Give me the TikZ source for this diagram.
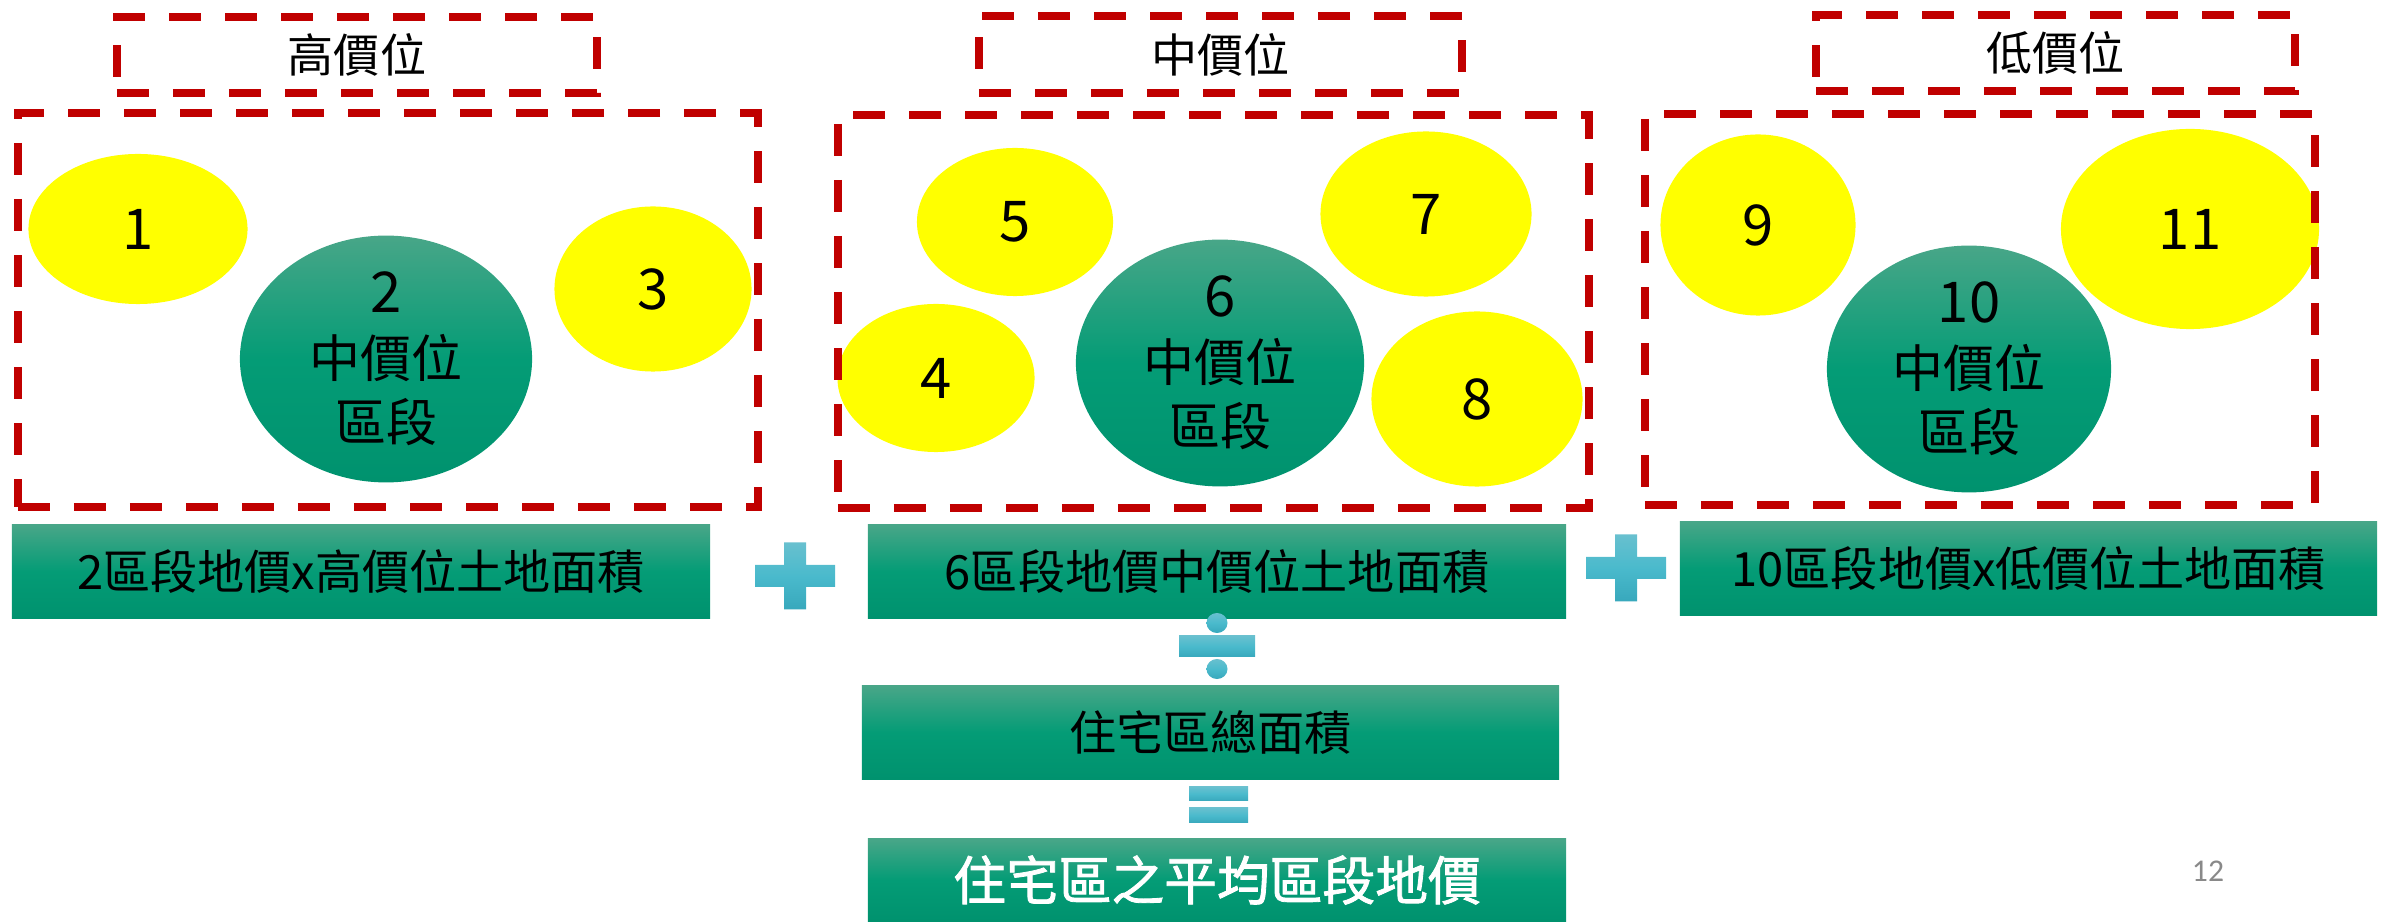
\documentclass[tikz,border=0pt]{standalone}
\usepackage{fontspec}
\setmainfont{Noto Sans CJK TC}
\newfontfamily\pagefont{Carlito}
\newfontfamily\semibold[FakeBold=1.6]{Noto Sans CJK TC}
\usetikzlibrary{shapes.geometric}
\definecolor{dred}{RGB}{192,0,0}
\definecolor{gtop}{RGB}{72,166,136}
\definecolor{gmid}{RGB}{4,156,118}
\definecolor{gbot}{RGB}{0,146,110}
\definecolor{ctop}{RGB}{104,192,207}
\definecolor{cmid}{RGB}{74,186,204}
\definecolor{cbot}{RGB}{56,168,188}
\definecolor{yel}{RGB}{255,255,0}
\definecolor{pgray}{RGB}{137,137,137}
\tikzset{
  redbox/.style={draw=dred, line width=0.08cm, dash pattern=on 0.32cm off 0.24cm, inner sep=0, rectangle},
  titlebox/.style={redbox, font=\fontsize{13.1}{16}\selectfont},
  yellowell/.style={ellipse, fill=yel, inner sep=0, font=\fontsize{16}{19}\selectfont},
  greenell/.style={ellipse, top color=gtop, bottom color=gbot, middle color=gmid, inner sep=0, align=center, font=\fontsize{14.5}{18.4}\selectfont},
  greenrect/.style={rectangle, top color=gtop, bottom color=gbot, middle color=gmid, inner sep=0, font=\fontsize{13.4}{16}\selectfont},
  opfill/.style={top color=ctop, bottom color=cbot, middle color=cmid},
}
\begin{document}
\begin{tikzpicture}[x=0.01cm, y=-0.01cm]
\useasboundingbox (0,0) rectangle (2381,922);
\clip (0,0) rectangle (2381,922);

% yellow ellipses
\node[yellowell, minimum width=2.19cm, minimum height=1.50cm] (e1) at (138,229) {1};
\node[yellowell, minimum width=1.97cm, minimum height=1.65cm] (e3) at (653,289) {3};
\node[yellowell, minimum width=1.96cm, minimum height=1.48cm] (e5) at (1015,222) {5};
\node[yellowell, minimum width=1.97cm, minimum height=1.48cm] (e4) at (936,378) {4};
\node[yellowell, minimum width=2.11cm, minimum height=1.65cm] (e7) at (1426,214) {7};
\node[yellowell, minimum width=2.11cm, minimum height=1.75cm] (e8) at (1477,399) {8};
\node[yellowell, minimum width=1.95cm, minimum height=1.81cm] (e9) at (1758,225) {9};
\node[yellowell, minimum width=2.58cm, minimum height=2.00cm] (e11) at (2190,229) {11};

% green ellipses
\node[greenell, minimum width=2.92cm, minimum height=2.44cm] (e2) at (386,359) {{\fontsize{16}{18.4}\selectfont 2}\\中價位\\區段};
\node[greenell, minimum width=2.88cm, minimum height=2.11cm] (e6) at (1220,363) {{\fontsize{16}{18.4}\selectfont 6}\\中價位\\區段};
\node[greenell, minimum width=2.84cm, minimum height=2.20cm] (e10) at (1969,369) {{\fontsize{16}{18.4}\selectfont 10}\\中價位\\區段};

% dashed group boxes
\node[redbox, minimum width=7.40cm, minimum height=3.94cm] (big1) at (388,310) {};
\node[redbox, minimum width=7.51cm, minimum height=3.93cm] (big2) at (1213.5,311.5) {};
\node[redbox, minimum width=6.70cm, minimum height=3.91cm] (big3) at (1980,309.5) {};

% title boxes
\node[titlebox, minimum width=4.80cm, minimum height=0.76cm] (t1) at (357,55) {高價位};
\node[titlebox, minimum width=4.83cm, minimum height=0.77cm] (t2) at (1220.5,54.5) {中價位};
\node[titlebox, minimum width=4.79cm, minimum height=0.76cm] (t3) at (2055.5,53) {低價位};

% formula boxes
\node[greenrect, minimum width=6.98cm, minimum height=0.93cm] (r1) at (361,571.5) {2區段地價x高價位土地面積};
\node[greenrect, minimum width=6.98cm, minimum height=0.93cm] (r2) at (1217,571.5) {6區段地價中價位土地面積};
\node[greenrect, minimum width=6.97cm, minimum height=0.93cm] (r5) at (2028.5,568.5) {10區段地價x低價位土地面積};
\node[greenrect, minimum width=6.97cm, minimum height=0.93cm] (r3) at (1210.5,732.5) {住宅區總面積};
\node[greenrect, minimum width=6.98cm, minimum height=0.82cm, text=white, font=\semibold\fontsize{15}{18}\selectfont] (r4) at (1217,880) {住宅區之平均區段地價};

% plus signs
\begin{scope}[shift={(795,576)}]
\shade[opfill] (-40,-11) -- (-11,-11) -- (-11,-33.5) -- (11,-33.5) -- (11,-11) -- (40,-11) -- (40,11) -- (11,11) -- (11,33.5) -- (-11,33.5) -- (-11,11) -- (-40,11) -- cycle;
\end{scope}
\begin{scope}[shift={(1626,568)}]
\shade[opfill] (-40,-11) -- (-11,-11) -- (-11,-33.5) -- (11,-33.5) -- (11,-11) -- (40,-11) -- (40,11) -- (11,11) -- (11,33.5) -- (-11,33.5) -- (-11,11) -- (-40,11) -- cycle;
\end{scope}

% divide sign
\shade[opfill] (1217,623) ellipse [x radius=0.105cm, y radius=0.10cm];
\shade[opfill] (1179,636) rectangle (1255,657);
\shade[opfill] (1217,669) ellipse [x radius=0.105cm, y radius=0.10cm];

% equals sign
\shade[opfill] (1189,787) rectangle (1248,801);
\shade[opfill] (1189,808) rectangle (1248,823);

% page number
\node[text=pgray, font=\pagefont\fontsize{9}{11}\selectfont, inner sep=0] (pg) at (2208,871) {12};
\end{tikzpicture}
\end{document}
